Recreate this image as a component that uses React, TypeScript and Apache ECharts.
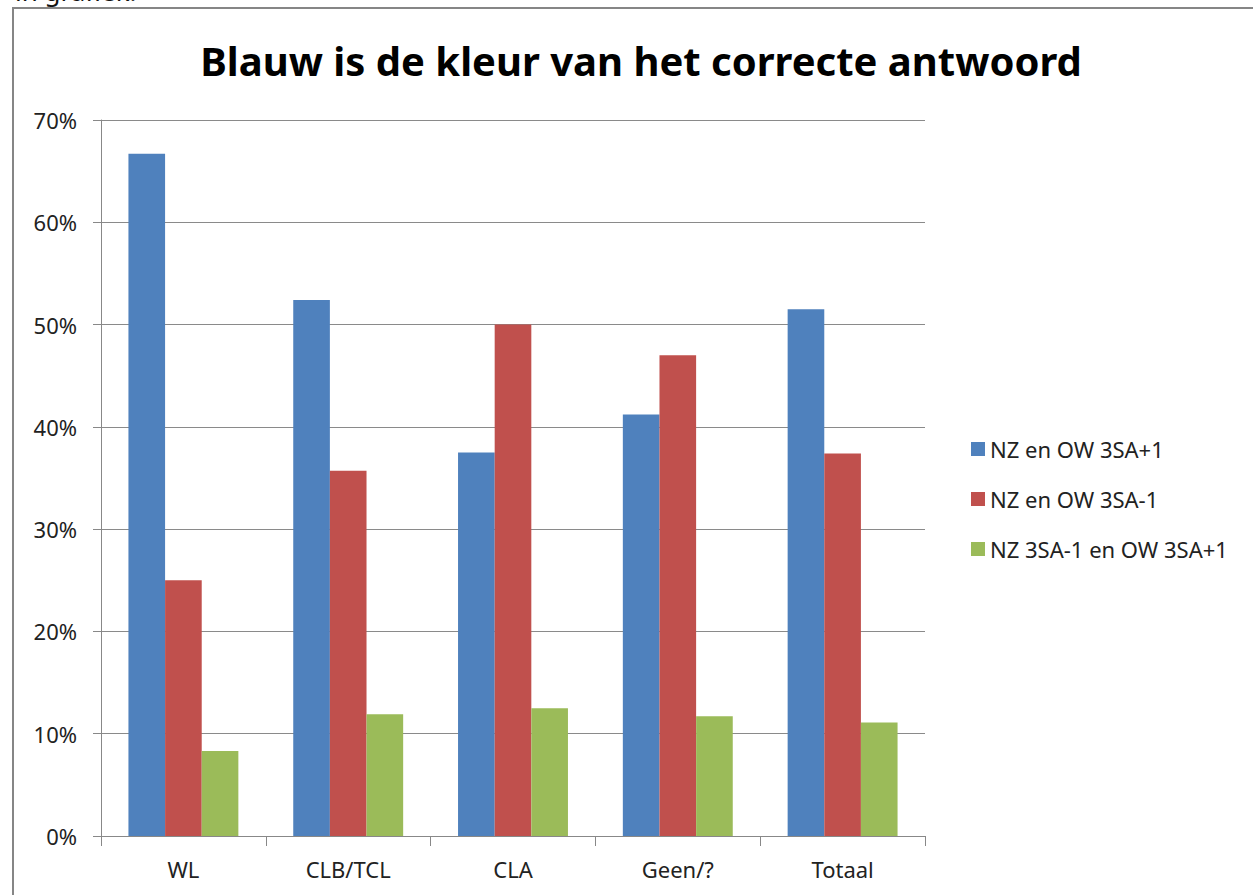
import React, { useEffect, useRef } from "react";
import * as echarts from "echarts";

const categories = ["WL", "CLB/TCL", "CLA", "Geen/?", "Totaal"];
const seriesNames = ["NZ en OW 3SA+1", "NZ en OW 3SA-1", "NZ 3SA-1 en OW 3SA+1"];
const blueValues = [66.7, 52.4, 37.5, 41.2, 51.5];
const redValues = [25.0, 35.7, 50.0, 47.0, 37.4];
const greenValues = [8.3, 11.9, 12.5, 11.7, 11.1];
const colors = ["#4F81BD", "#C0504D", "#9BBB59"];
const titleText = "Blauw is de kleur van het correcte antwoord";
const FONT = "'Noto Sans', 'Open Sans', sans-serif";

export default function App() {
  const ref = useRef<HTMLDivElement>(null);
  useEffect(() => {
    if (!ref.current) return;
    const chart = echarts.init(ref.current, undefined, { renderer: "svg" });
    const values = [blueValues, redValues, greenValues];
    chart.setOption({
      animation: false,
      backgroundColor: "#ffffff",
      grid: { left: 101, right: 328, top: 120, bottom: 59, containLabel: false },
      legend: {
        orient: "vertical",
        left: 966,
        top: 432,
        itemWidth: 14,
        itemHeight: 14,
        itemGap: 26,
        icon: "rect",
        data: seriesNames,
        textStyle: { fontFamily: FONT, fontSize: 22, color: "#222", lineHeight: 24 },
      },
      xAxis: {
        type: "category",
        data: categories,
        axisLine: { lineStyle: { color: "#888", width: 1 } },
        axisTick: { show: true, alignWithLabel: false, length: 10, lineStyle: { color: "#888" } },
        axisLabel: { fontFamily: FONT, fontSize: 22, color: "#222", margin: 22 },
      },
      yAxis: {
        type: "value",
        min: 0,
        max: 70,
        interval: 10,
        axisLine: { show: true, lineStyle: { color: "#888", width: 1 } },
        axisTick: { show: true, length: 8, lineStyle: { color: "#888" } },
        splitLine: { lineStyle: { color: "#8a8a8a", width: 1 } },
        axisLabel: { fontFamily: FONT, fontSize: 22, color: "#222", margin: 24, formatter: "{value}%" },
      },
      series: seriesNames.map((name, i) => ({
        name,
        type: "bar",
        data: values[i],
        itemStyle: { color: colors[i] },
        barGap: "0%",
        barCategoryGap: "33.3%",
      })),
      graphic: [
        {
          type: "rect",
          shape: { x: 13, y: 8, width: 1400, height: 1000 },
          style: { fill: "none", stroke: "#868686", lineWidth: 2 },
          z: 100,
        },
        {
          type: "text",
          x: 641,
          y: 60,
          style: {
            text: titleText,
            fontFamily: FONT,
            fontWeight: "bold",
            fontSize: 40,
            fill: "#000",
            textAlign: "center",
            textVerticalAlign: "middle",
          },
        },
        {
          type: "text",
          x: 15,
          y: -9,
          style: {
            text: "in grafiek.",
            fontFamily: FONT,
            fontSize: 26,
            fill: "#111",
            textAlign: "left",
            textVerticalAlign: "middle",
          },
        },
      ],
    });
    return () => chart.dispose();
  }, []);
  return (
    <div
      ref={ref}
      style={{ position: "fixed", left: 0, top: 0, width: 1253, height: 895 }}
    />
  );
}
